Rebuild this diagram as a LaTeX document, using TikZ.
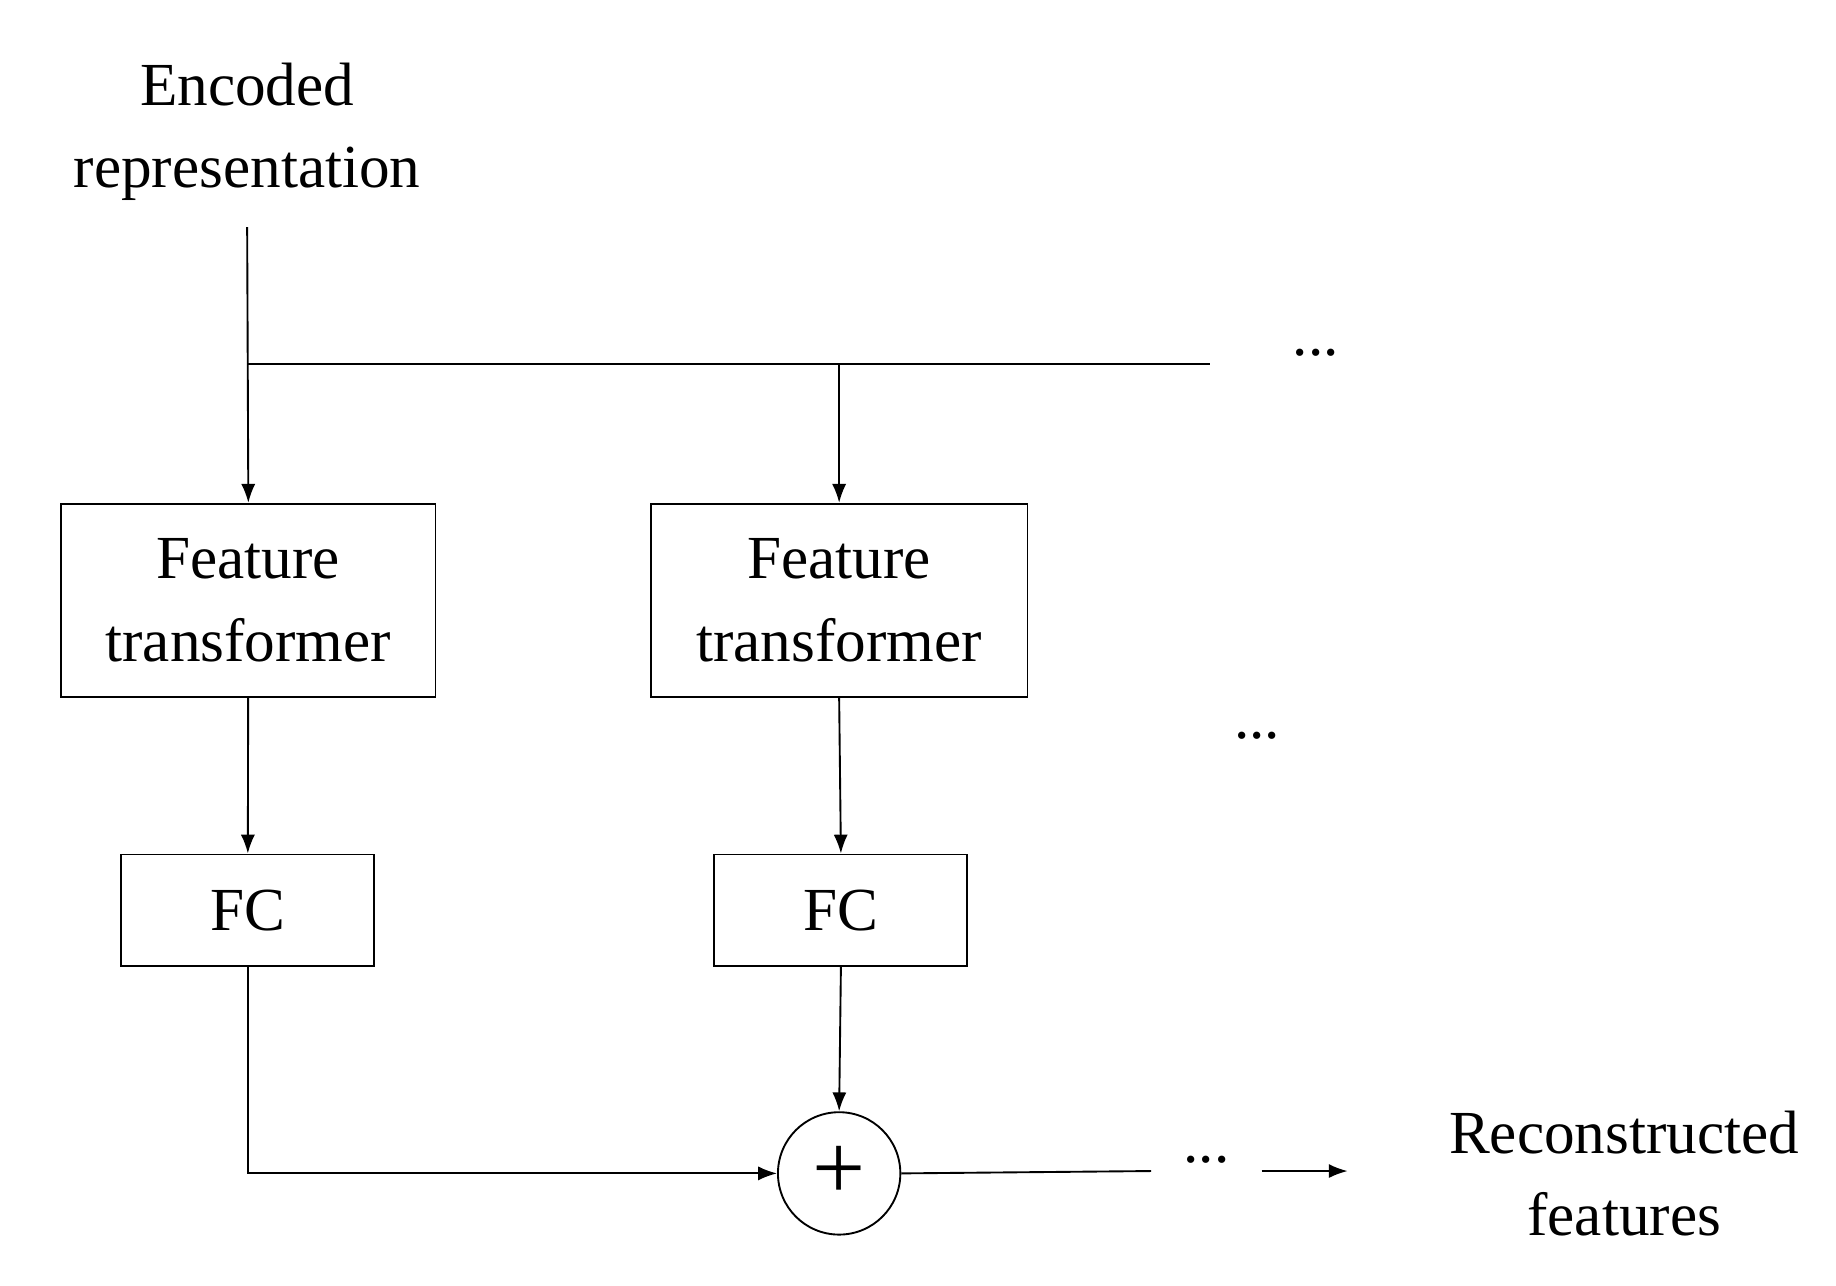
\documentclass[tikz,border=0pt]{standalone}
\usepackage{fontspec}
\setmainfont{Liberation Serif}
\usetikzlibrary{arrows.meta}
\begin{document}
\begin{tikzpicture}[x=0.5pt,y=-0.5pt,
  every node/.style={font=\fontsize{26}{35}\selectfont, align=center},
  box/.style={draw, line width=0.8pt, inner sep=0pt},
  line/.style={line width=0.8pt},
  arr/.style={line width=0.8pt, -{Latex[length=8pt,width=6pt]}}]
\useasboundingbox (0,0) rectangle (1560,1092);
\node (enc) at (210,112) {Encoded\\representation};
\coordinate (encb) at (210,193);
\node[box, minimum width=159pt, minimum height=82pt] (ft1) at (211,510) {Feature\\transformer};
\node[box, minimum width=160pt, minimum height=82pt] (ft2) at (713,510) {Feature\\transformer};
\node[box, minimum width=107.5pt, minimum height=47.5pt] (fc1) at (210.5,773.5) {FC};
\node[box, minimum width=107.5pt, minimum height=47.5pt] (fc2) at (714.5,773.5) {FC};
\node[draw, circle, line width=0.8pt, minimum size=52pt, inner sep=0pt] (plus) at (713,997) {\fontsize{40}{40}\selectfont +};
\coordinate (j1) at (210,309);
\coordinate (j2) at (713,309);
\coordinate (hend) at (1028,309);
\node (d1) at (1118,300) {...};
\node (d2) at (1068,625) {...};
\coordinate (oend) at (978,995);
\node (d3) at (1025,985) {...};
\coordinate (ostart) at (1072,995);
\coordinate (ohead) at (1145,995);
\node (rec) at (1380,997) {Reconstructed\\features};
\draw[arr] (encb) -- (ft1.north);
\draw[line] (j1) -- (hend);
\draw[arr] (j2) -- (ft2.north);
\draw[arr] (ft1) -- (fc1);
\draw[arr] (ft2.south) -- (fc2.north);
\draw[arr] (fc1.south) |- (plus.west);
\draw[arr] (fc2.south) -- (plus.north);
\draw[line] (plus.east) -- (oend);
\draw[arr] (ostart) -- (ohead);
\end{tikzpicture}
\end{document}
